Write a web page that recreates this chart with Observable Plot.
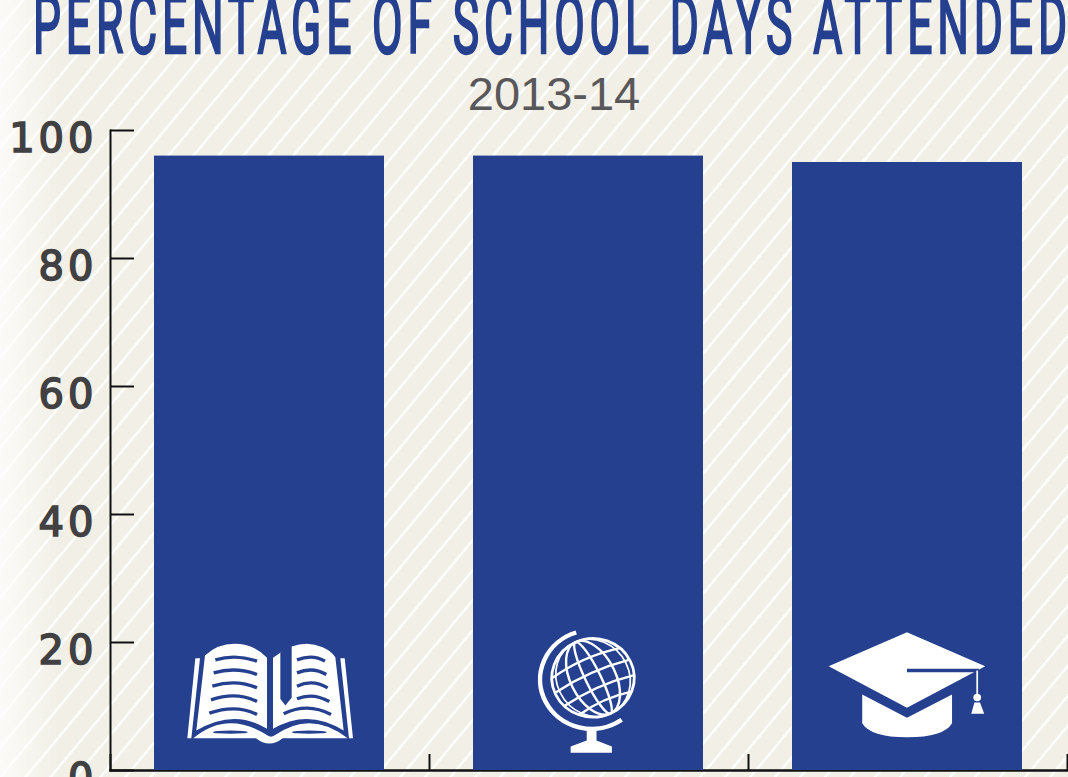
<!DOCTYPE html>
<html><head><meta charset="utf-8">
<script src="https://cdn.jsdelivr.net/npm/d3@7"></script>
<script src="https://cdn.jsdelivr.net/npm/@observablehq/plot@0.6"></script>
<style>
html,body{margin:0;padding:0;width:1068px;height:777px;overflow:hidden}
body{position:relative;background:#f1efe6;}
#bg{position:absolute;inset:0;background:
 linear-gradient(90deg,rgba(255,255,255,.75) 0,rgba(255,255,255,0) 60px),
 repeating-linear-gradient(129.8deg,#f1efe6 0,#f1efe6 16.4px,#fdfdfb 16.7px,#fdfdfb 18.9px,#f1efe6 19.2px);}
#chart{position:absolute;left:0;top:0}
#chart svg{background:transparent;display:block}
#chart svg text{font-family:"DejaVu Sans",sans-serif;font-weight:400;letter-spacing:4px;stroke:#414042;stroke-width:1.6px;paint-order:stroke}
h1{position:absolute;margin:0;left:33px;top:-4px;white-space:nowrap;font:400 82px/58px "Roboto";color:#25408f;letter-spacing:9px;transform-origin:0 0;transform:scaleX(.541);-webkit-text-stroke:2.4px #25408f}
h2{position:absolute;margin:0;left:0;width:1108px;text-align:center;top:70px;font:400 47px/47px "Liberation Sans";color:#58585a}
</style></head><body>
<div id="bg"></div>
<div id="chart"></div>
<h1>PERCENTAGE OF SCHOOL DAYS ATTENDED</h1>
<h2>2013-14</h2>
<script>
const categories = ["Elementary", "Middle", "High"];
const attendance = [96, 96, 95];
const yTicks = [0, 20, 40, 60, 80, 100];
const xBoundaries = [0, 1, 2, 3];

const uri = (vb, body) => "data:image/svg+xml," + encodeURIComponent(
  `<svg xmlns="http://www.w3.org/2000/svg" viewBox="${vb}" preserveAspectRatio="none" width="180" height="130">${body}</svg>`);

const B = "#25408f";
const bookIcon = uri("537 15 540 390", `
<g fill="#fff">
<path d="M583 113H597L571 353H559Z"/><path d="M1018 113H1031L1056 353H1044Z"/>
<path d="M612 105Q650 70 700 70Q760 70 798 112V325Q700 263 586 330Z"/>
<path d="M816 112L838 97L872 78Q920 60 965 80Q990 90 1003 110L1028 330Q920 263 816 325Z"/>
<path d="M577 353Q680 267 800 345Q810 352 820 345Q930 267 1040 353H845Q805 385 765 353Z"/>
</g>
<path d="M838 97L872 72V232L853 255L838 235Z" fill="${B}"/>
<g fill="none" stroke="${B}" stroke-width="10">
<path d="M643 118Q705 100 768 122"/><path d="M638 157Q705 138 768 162"/><path d="M634 197Q705 175 768 202"/><path d="M630 238Q705 212 768 243"/><path d="M625 278Q705 250 768 282"/>
<path d="M888 118Q935 100 972 122"/><path d="M888 157Q935 138 976 162"/><path d="M888 197Q935 175 980 202"/><path d="M888 235Q935 215 985 243"/><path d="M848 280Q920 245 990 282"/>
</g>
<ellipse cx="688" cy="335" rx="52" ry="5" fill="${B}"/><ellipse cx="925" cy="335" rx="52" ry="5" fill="${B}"/>`);

const globeIcon = uri("-63 15 515 390", `
<g fill="none" stroke="#fff">
<path d="M158 36A148 148 0 1 0 288 298" stroke-width="13"/>
<g transform="translate(206 172) rotate(-25)">
<circle r="118" stroke-width="8"/>
<ellipse rx="104" ry="118" stroke-width="5"/>
<ellipse rx="65" ry="118" stroke-width="7"/>
<ellipse rx="22" ry="118" stroke-width="7"/>
<path d="M-110 -48Q0 -72 110 -48M-118 -5Q0 -25 118 -5M-110 42Q0 22 110 42M-82 84Q0 66 82 84" stroke-width="7"/>
</g>
</g>
<path d="M188 325H216V360L260 378V397H142V378L188 360Z" fill="#fff"/>`);

const capIcon = uri("849.5 15 515 390", `
<path d="M880 137L1104 35L1328 137L1104 262Z" fill="#fff"/>
<path d="M1104 150H1310" stroke="${B}" stroke-width="11"/>
<path d="M1305 150V225" stroke="#fff" stroke-width="5"/>
<circle cx="1305" cy="231" r="11" fill="#fff"/>
<path d="M1297 246H1313L1325 280H1288Z" fill="#fff"/>
<path d="M976 222L1104 292L1233 222V308Q1210 350 1104 350Q1000 350 976 308Z" fill="#fff"/>`);

const icons = [bookIcon, globeIcon, capIcon];
const iconLevel = [12.5, 12.5, 12.5];

const table = categories.map((c, i) => ({
  category: c, value: attendance[i], left: i, right: i + 1, mid: i + 0.5,
  icon: icons[i], level: iconLevel[i]
}));

const plot = Plot.plot({
  width: 1068, height: 777,
  marginLeft: 110, marginRight: 1, marginTop: 130, marginBottom: 7,
  style: {background: "transparent", overflow: "hidden"},
  x: {type: "linear", domain: [0, 3], axis: null},
  y: {domain: [0, 100], axis: null},
  marks: [
    Plot.axisY({ticks: yTicks, tickSize: 0, tickPadding: 13, label: null, fontSize: 40,
      fill: "#414042", dy: 9}),
    Plot.axisY({ticks: yTicks, tickSize: -24, text: null, label: null, stroke: "#111", strokeWidth: 2}),
    Plot.axisX({ticks: xBoundaries, tickSize: -16, text: null, label: null, stroke: "#111", strokeWidth: 2}),
    Plot.frame({anchor: "left", stroke: "#111", strokeWidth: 2}),
    Plot.frame({anchor: "bottom", stroke: "#111", strokeWidth: 2.5}),
    Plot.rectY(table, {x1: "left", x2: "right", y: "value", insetLeft: 44, insetRight: 45, fill: B}),
    Plot.image(table, {x: "mid", y: "level", src: "icon", width: 180, height: 130, preserveAspectRatio: "none"})
  ]
});
document.getElementById("chart").append(plot);
</script>
</body></html>
